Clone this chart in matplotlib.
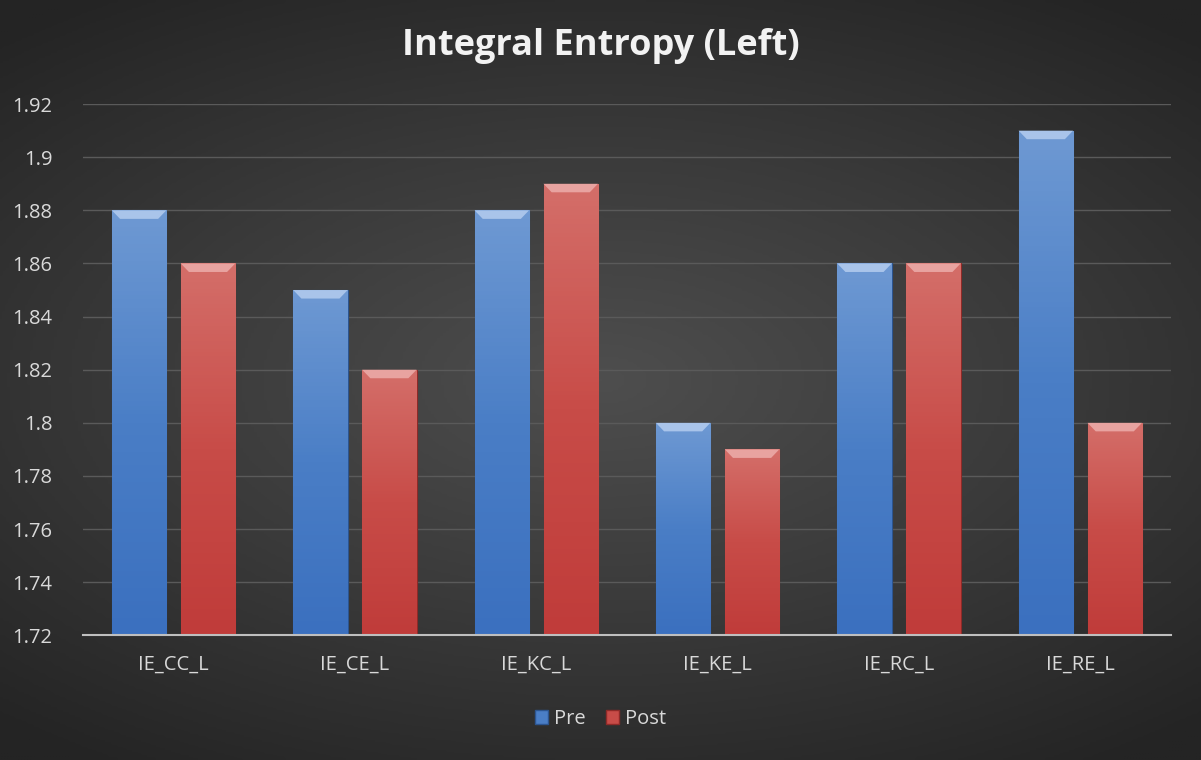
import numpy as np
import matplotlib.pyplot as plt
from matplotlib.patches import Polygon, Patch
from matplotlib.colors import LinearSegmentedColormap

categories = ["IE_CC_L", "IE_CE_L", "IE_KC_L", "IE_KE_L", "IE_RC_L", "IE_RE_L"]
pre = [1.88, 1.85, 1.88, 1.80, 1.86, 1.91]
post = [1.86, 1.82, 1.89, 1.79, 1.86, 1.80]
yticks = [1.72, 1.74, 1.76, 1.78, 1.80, 1.82, 1.84, 1.86, 1.88, 1.90, 1.92]
ytick_labels = ["1.72", "1.74", "1.76", "1.78", "1.8", "1.82", "1.84", "1.86", "1.88", "1.9", "1.92"]

plt.rcParams['font.family'] = ['Open Sans', 'DejaVu Sans']

fig = plt.figure(figsize=(12.01, 7.6), dpi=100)

# radial dark background
bg = fig.add_axes([0, 0, 1, 1], zorder=-10)
yy, xx = np.mgrid[-1:1:300j, -1:1:400j]
r = np.sqrt((xx * 0.9) ** 2 + (yy * 1.1) ** 2)
bg_cmap = LinearSegmentedColormap.from_list("bg", ["#4e4e4e", "#3a3a3a", "#242424"])
bg.imshow(r, cmap=bg_cmap, aspect='auto', extent=[0, 1, 0, 1], vmin=0, vmax=1.35)
bg.set_axis_off()

ax = fig.add_axes([0.069, 0.164, 0.906, 0.699])
ax.patch.set_alpha(0)

x = np.arange(len(categories))
width = 0.30
off = 0.19

blue_cmap = LinearSegmentedColormap.from_list("b", ["#3b70bf", "#4a7ec6", "#6e99d3"])
red_cmap = LinearSegmentedColormap.from_list("r", ["#c03c3a", "#c84c48", "#d46e69"])

ymin = 1.72
bev_y = 0.0032
bev_x = 0.045


def draw_bars(xs, vals, cmap, top_col, edge_col, label):
    bars = ax.bar(xs, np.array(vals) - ymin, width, bottom=ymin, color=cmap(0.5),
                  edgecolor=edge_col, linewidth=0.8, label=label, zorder=3)
    grad = np.linspace(0, 1, 100).reshape(-1, 1)
    for b in bars:
        x0 = b.get_x()
        x1 = x0 + b.get_width()
        y1 = b.get_y() + b.get_height()
        im = ax.imshow(grad, cmap=cmap, aspect='auto', origin='lower',
                       extent=[x0, x1, ymin, y1], zorder=3.1)
        im.set_clip_path(b)
        bevel = Polygon([[x0, y1], [x1, y1], [x1 - bev_x, y1 - bev_y], [x0 + bev_x, y1 - bev_y]],
                        closed=True, facecolor=top_col, edgecolor='none', zorder=3.2)
        ax.add_patch(bevel)
    return bars


draw_bars(x - off, pre, blue_cmap, "#a9c4ea", "#2c5590", "Pre")
draw_bars(x + off, post, red_cmap, "#e8a3a0", "#8e2a28", "Post")

ax.set_xlim(-0.5, len(categories) - 0.5)
ax.set_ylim(1.72, 1.92)
ax.set_yticks(yticks)
ax.set_yticklabels(ytick_labels)
ax.set_xticks(x)
ax.set_xticklabels(categories)
ax.tick_params(axis='both', length=0, colors='#d9d9d9', labelsize=14.5)
ax.tick_params(axis='x', pad=14)
ax.tick_params(axis='y', pad=22)
ax.grid(axis='y', color='#5a5a5a', linewidth=1, zorder=0)
for s in ['top', 'right', 'left']:
    ax.spines[s].set_visible(False)
ax.spines['bottom'].set_color('#bfbfbf')
ax.spines['bottom'].set_linewidth(1.5)
ax.spines['bottom'].set_zorder(4)

fig.text(0.5, 0.94, "Integral Entropy (Left)", ha='center', va='center',
         fontsize=26, fontweight='bold', color='#f2f2f2')

handles = [Patch(facecolor='#4a7ec6', edgecolor='#2c5590'),
           Patch(facecolor='#c84c48', edgecolor='#8e2a28')]
fig.legend(handles, ["Pre", "Post"], loc='center', bbox_to_anchor=(0.5, 0.054), ncol=2,
           frameon=False, fontsize=14.5, labelcolor='#d9d9d9', handlelength=0.65,
           handleheight=0.65, handletextpad=0.3, columnspacing=1.0)

fig.savefig("out.png", dpi=100)
